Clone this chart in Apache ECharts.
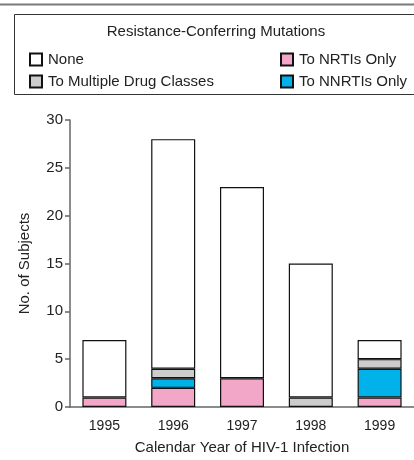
<!DOCTYPE html>
<html><head><meta charset="utf-8">
<script src="https://cdn.jsdelivr.net/npm/echarts@6/dist/echarts.min.js"></script>
<style>html,body{margin:0;padding:0;background:#fff}#c{width:414px;height:460px}</style>
</head><body><div id="c"></div>
<script>
const years = ['1995','1996','1997','1998','1999'];
const nrtiOnly = [1, 2, 3, 0, 1];
const nnrtiOnly = [0, 1, 0, 0, 3];
const multiple = [0, 1, 0, 1, 1];
const none = [6, 24, 20, 14, 2];
const yTicks = [0, 5, 10, 15, 20, 25, 30];

const FONT = '"Liberation Sans", Arial, sans-serif';
const chart = echarts.init(document.getElementById('c'), null, {renderer: 'canvas'});
function ser(name, data, color) {
  return {name, type: 'bar', stack: 'all', data: data.map(v => v === 0 ? '-' : v), barWidth: 44,
    itemStyle: {color, borderColor: '#111', borderWidth: 1.2},
    emphasis: {disabled: true}};
}
chart.setOption({
  animation: false,
  textStyle: {fontFamily: FONT},
  graphic: [
    {type: 'line', shape: {x1: 0, y1: 4.5, x2: 414, y2: 4.5}, style: {stroke: '#7a7a7a', lineWidth: 2}},
    {type: 'rect', shape: {x: 14.5, y: 14.5, width: 420, height: 80}, style: {fill: 'none', stroke: '#333', lineWidth: 1}},
    {type: 'text', x: 216, y: 32, style: {text: 'Resistance-Conferring Mutations', font: '15px ' + FONT, fill: '#222', align: 'center', verticalAlign: 'middle'}}
  ],
  legend: [
    {left: 24, top: 47, orient: 'vertical', itemGap: 7, itemWidth: 12, itemHeight: 12, icon: 'rect',
     data: ['None', 'To Multiple Drug Classes'], textStyle: {fontSize: 15, color: '#222', fontFamily: FONT, padding: [0,0,0,1]}},
    {left: 275, top: 47, orient: 'vertical', itemGap: 7, itemWidth: 12, itemHeight: 12, icon: 'rect',
     data: ['To NRTIs Only', 'To NNRTIs Only'], textStyle: {fontSize: 15, color: '#222', fontFamily: FONT, padding: [0,0,0,1]}}
  ],
  grid: {left: 70, top: 120, width: 348.5, height: 287},
  xAxis: {type: 'category', data: years,
    axisLine: {lineStyle: {color: '#666', width: 1.5}},
    axisTick: {show: false},
    axisLabel: {fontSize: 14, color: '#222', fontFamily: FONT, margin: 12},
    name: 'Calendar Year of HIV-1 Infection', nameLocation: 'middle', nameGap: 33,
    nameTextStyle: {fontSize: 15, color: '#222', fontFamily: FONT}},
  yAxis: {type: 'value', min: yTicks[0], max: yTicks[yTicks.length-1], interval: 5,
    splitLine: {show: false},
    axisLine: {show: true, lineStyle: {color: '#666', width: 1.5}},
    axisTick: {show: true, length: 5, lineStyle: {color: '#666', width: 1.5}},
    axisLabel: {fontSize: 15, color: '#222', fontFamily: FONT, margin: 7},
    name: 'No. of Subjects', nameLocation: 'middle', nameGap: 38,
    nameTextStyle: {fontSize: 15, color: '#222', fontFamily: FONT}},
  series: [
    ser('To NRTIs Only', nrtiOnly, '#f2a6c8'),
    ser('To NNRTIs Only', nnrtiOnly, '#00b1ea'),
    ser('To Multiple Drug Classes', multiple, '#cccccc'),
    ser('None', none, '#ffffff')
  ]
});
</script></body></html>
